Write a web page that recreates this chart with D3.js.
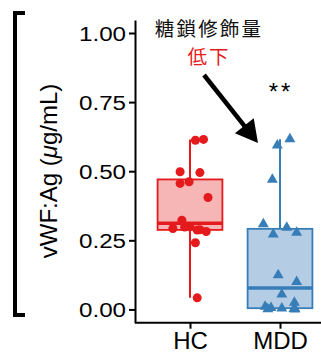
<!DOCTYPE html>
<html><head><meta charset="utf-8">
<script src="https://cdn.jsdelivr.net/npm/d3@7"></script>
<style>
html,body{margin:0;padding:0;background:#fff;}
svg{display:block;}
</style></head>
<body>
<svg id="chart" width="321" height="355"></svg>
<script>
const categories = ["HC", "MDD"];
const hcValues = [0.615, 0.612, 0.498, 0.495, 0.462, 0.456, 0.405, 0.323, 0.300, 0.298, 0.293, 0.288, 0.287, 0.282, 0.241, 0.042];
const hcJitter = [0.15, 0.06, -0.11, 0.11, -0.01, -0.11, 0.2, -0.09, 0, -0.06, -0.19, 0.11, 0.08, 0.18, 0.06, 0.08];
const mddValues = [0.616, 0.594, 0.470, 0.309, 0.296, 0.278, 0.272, 0.124, 0.100, 0.055, 0.025, 0.010, 0.006, 0.004, 0.003, 0.002, 0.001, 0.000];
const mddJitter = [0.11, -0.03, -0.085, -0.185, 0.075, 0.185, -0.075, -0.02, 0.185, 0.02, 0.16, -0.165, -0.1, 0.02, 0.165, 0.155, -0.135, 0.165];
const yTicks = [0, 0.25, 0.5, 0.75, 1.0];
const yTickLabels = ["0.00", "0.25", "0.50", "0.75", "1.00"];
const yLabelMain = "vWF:Ag (";
const yLabelMu = "μ";
const yLabelRest = "g/mL)";
const annotTitle = "糖鎖修飾量";
const annotSub = "低下";
const sigLabel = "**";

const groups = [
  {name: "HC", values: hcValues, jitter: hcJitter, stroke: "#e41a1c", fill: "#f7b6b6", shape: "circle"},
  {name: "MDD", values: mddValues, jitter: mddJitter, stroke: "#377eb8", fill: "#b4cde4", shape: "triangle"}
];

const svg = d3.select("#chart");
const latin = "'Liberation Sans', Arial, Helvetica, sans-serif";
const cjk = "'Noto Sans CJK JP', 'Noto Sans CJK SC', sans-serif";

const y = d3.scaleLinear().domain([-0.048, 1.047]).range([322.7, 20]);
const x = d3.scalePoint().domain(categories).range([136, 334]).padding(0.6);
const step = x.step();
const boxW = 0.72 * step;

// bracket on left
svg.append("path").attr("d", "M25,13H15V315H25").attr("fill", "none")
  .attr("stroke", "#000").attr("stroke-width", 4);

// y axis
const yAxis = d3.axisLeft(y).tickValues(yTicks).tickFormat((d, i) => yTickLabels[i]).tickSize(6).tickSizeOuter(0);
const gy = svg.append("g").attr("transform", "translate(135,0)").call(yAxis);
gy.select(".domain").attr("stroke", "#000").attr("stroke-width", 2);
gy.selectAll(".tick line").attr("stroke", "#000").attr("stroke-width", 2);
gy.selectAll(".tick text").attr("font-family", latin).attr("font-size", 20.5).attr("fill", "#000")
  .attr("dy", "0.36em")
  .attr("transform", "scale(1.18,1)")
  .attr("x", -9 / 1.18);

// x axis
const xAxis = d3.axisBottom(x).tickSize(6).tickSizeOuter(0);
const gx = svg.append("g").attr("transform", "translate(0,322.7)").call(xAxis);
gx.select(".domain").attr("stroke", "#000").attr("stroke-width", 2).attr("d", "M135,0H321");
gx.selectAll(".tick line").attr("stroke", "#000").attr("stroke-width", 2);
gx.selectAll(".tick text").attr("font-family", latin).attr("font-size", 24).attr("fill", "#000").attr("y", 9).attr("dy", "0.71em");

// y label
const yl = svg.append("text").attr("transform", "translate(57,171) rotate(-90)")
  .attr("text-anchor", "middle").attr("font-family", latin).attr("font-size", 24).attr("fill", "#000");
yl.append("tspan").text(yLabelMain);
yl.append("tspan").attr("font-style", "italic").text(yLabelMu);
yl.append("tspan").text(yLabelRest);

// boxes
groups.forEach(g => {
  const s = g.values.slice().sort(d3.ascending);
  const q1 = d3.quantile(s, 0.25), med = d3.quantile(s, 0.5), q3 = d3.quantile(s, 0.75);
  const iqr = q3 - q1;
  const lo = d3.min(s.filter(v => v >= q1 - 1.5 * iqr));
  const hi = d3.max(s.filter(v => v <= q3 + 1.5 * iqr));
  const cx = x(g.name);
  const gg = svg.append("g");
  gg.append("line").attr("x1", cx).attr("x2", cx).attr("y1", y(q3)).attr("y2", y(hi))
    .attr("stroke", g.stroke).attr("stroke-width", 2);
  gg.append("line").attr("x1", cx).attr("x2", cx).attr("y1", y(q1)).attr("y2", y(lo))
    .attr("stroke", g.stroke).attr("stroke-width", 2);
  gg.append("rect").attr("x", cx - boxW / 2).attr("width", boxW)
    .attr("y", y(q3)).attr("height", y(q1) - y(q3))
    .attr("fill", g.fill).attr("stroke", g.stroke).attr("stroke-width", 1.8);
  gg.append("line").attr("x1", cx - boxW / 2).attr("x2", cx + boxW / 2).attr("y1", y(med)).attr("y2", y(med))
    .attr("stroke", g.stroke).attr("stroke-width", 3.5);
});

// points
groups.forEach(g => {
  const cx = x(g.name);
  const sym = g.shape === "circle" ? d3.symbol(d3.symbolCircle, 64) : d3.symbol(d3.symbolTriangle, 52);
  svg.append("g").selectAll("path").data(g.values).join("path")
    .attr("d", sym)
    .attr("transform", (d, i) => `translate(${cx + g.jitter[i] * step},${y(d)})`)
    .attr("fill", g.stroke);
});

// annotation
svg.append("text").attr("x", 209).attr("y", 36).attr("text-anchor", "middle")
  .attr("font-family", cjk).attr("font-size", 19.5).attr("letter-spacing", 2.2).attr("fill", "#111").text(annotTitle);
svg.append("text").attr("x", 209).attr("y", 64).attr("text-anchor", "middle")
  .attr("font-family", cjk).attr("font-size", 19.5).attr("letter-spacing", 2).attr("fill", "#e41a1c").text(annotSub);

// arrow
const ax0 = 204, ay0 = 75, ax1 = 258, ay1 = 143;
const ang = Math.atan2(ay1 - ay0, ax1 - ax0);
const headLen = 22, headW = 12;
const bx = ax1 - headLen * Math.cos(ang), by = ay1 - headLen * Math.sin(ang);
svg.append("line").attr("x1", ax0).attr("y1", ay0).attr("x2", bx + 2 * Math.cos(ang)).attr("y2", by + 2 * Math.sin(ang))
  .attr("stroke", "#000").attr("stroke-width", 4.5);
svg.append("path").attr("d", `M${ax1},${ay1}L${bx + headW * Math.sin(ang)},${by - headW * Math.cos(ang)}L${bx - headW * Math.sin(ang)},${by + headW * Math.cos(ang)}Z`)
  .attr("fill", "#000");

// significance
svg.append("text").attr("x", x("MDD") + 1).attr("y", 100).attr("text-anchor", "middle")
  .attr("font-family", latin).attr("font-size", 24).attr("letter-spacing", 3).attr("fill", "#000").text(sigLabel);
</script>
</body></html>
